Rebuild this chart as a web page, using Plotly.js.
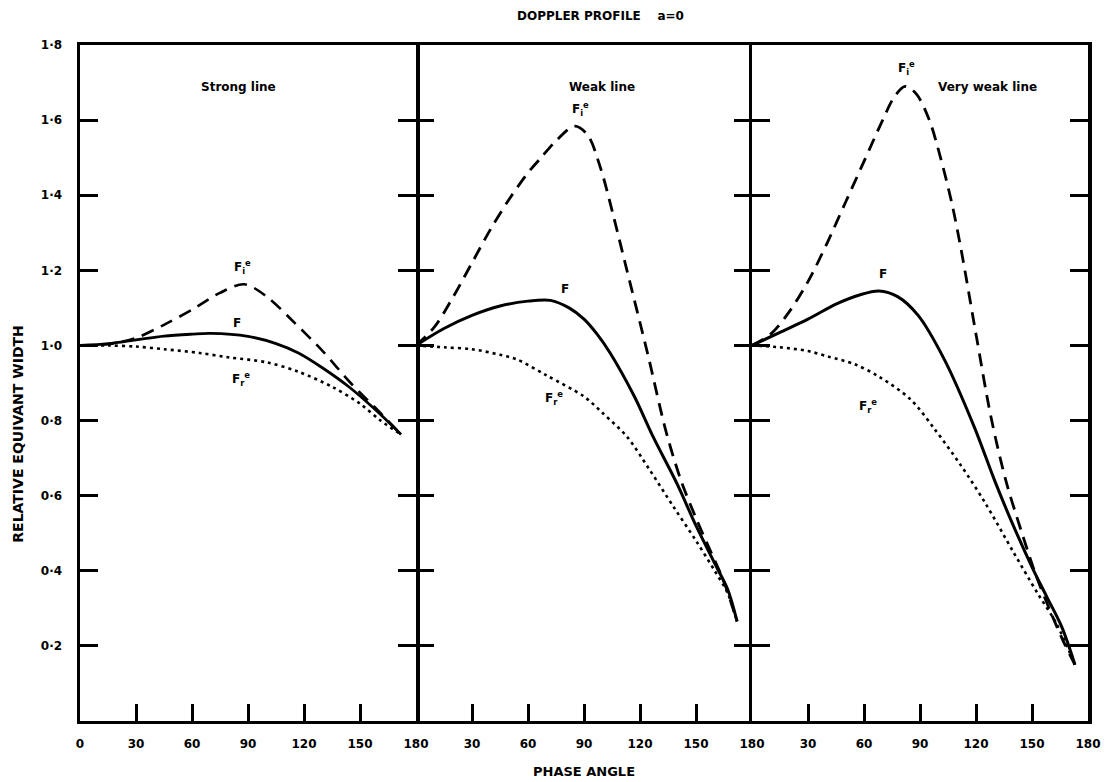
<!DOCTYPE html>
<html><head><meta charset="utf-8">
<script src="https://cdn.plot.ly/plotly-3.0.1.min.js"></script>
<style>html,body{margin:0;padding:0;background:#fff}#c{width:1109px;height:782px}</style>
</head><body><div id="c"></div>
<script>
// Strong line panel
const phaseStrong = [0, 15, 30, 45, 60, 75, 88, 100, 115, 130, 145, 160, 172];
const fiStrong    = [1.00, 1.003, 1.02, 1.055, 1.095, 1.14, 1.163, 1.13, 1.06, 0.985, 0.90, 0.825, 0.763];
const phaseStrongF = [0, 15, 30, 45, 60, 70, 90, 105, 117, 130, 144, 158, 172];
const fStrong      = [1.00, 1.005, 1.015, 1.025, 1.03, 1.032, 1.024, 1.005, 0.98, 0.94, 0.89, 0.83, 0.763];
const phaseStrongR = [0, 15, 30, 45, 64, 80, 100, 117, 135, 150, 161, 172];
const frStrong     = [1.00, 1.0, 0.997, 0.99, 0.98, 0.968, 0.955, 0.93, 0.89, 0.845, 0.80, 0.763];
// Weak line panel
const phaseWeakI = [0, 10, 20, 30, 40, 50, 60, 67, 75, 85, 92, 99, 106, 113, 124, 134, 142, 150, 158, 165, 172];
const fiWeak     = [1.0, 1.05, 1.13, 1.22, 1.31, 1.39, 1.46, 1.50, 1.545, 1.584, 1.56, 1.47, 1.34, 1.20, 0.98, 0.77, 0.64, 0.54, 0.45, 0.37, 0.265];
const phaseWeakF = [0, 15, 30, 45, 60, 72, 82, 90, 97, 104, 117, 127, 140, 150, 160, 167, 172];
const fWeak      = [1.0, 1.045, 1.08, 1.105, 1.118, 1.12, 1.10, 1.07, 1.03, 0.98, 0.864, 0.757, 0.63, 0.52, 0.42, 0.35, 0.265];
const phaseWeakR = [0, 15, 30, 45, 54, 70, 90, 100, 113, 125, 138, 150, 160, 167, 172];
const frWeak     = [1.0, 0.995, 0.99, 0.975, 0.963, 0.92, 0.864, 0.82, 0.757, 0.67, 0.57, 0.48, 0.40, 0.34, 0.265];
// Very weak line panel
const phaseVWeakI = [0, 10, 20, 30, 40, 50, 60, 70, 76, 82, 88, 95, 101, 107, 112, 120, 128, 136, 144, 152, 160, 167, 173];
const fiVWeak     = [1.0, 1.03, 1.09, 1.17, 1.27, 1.38, 1.49, 1.60, 1.66, 1.69, 1.67, 1.60, 1.50, 1.38, 1.256, 1.03, 0.81, 0.64, 0.51, 0.39, 0.29, 0.21, 0.15];
const phaseVWeakF = [0, 15, 30, 45, 58, 68, 78, 89, 103, 119, 130, 140, 150, 158, 166, 173];
const fVWeak      = [1.0, 1.035, 1.07, 1.11, 1.135, 1.145, 1.13, 1.08, 0.963, 0.784, 0.64, 0.52, 0.41, 0.33, 0.25, 0.15];
const phaseVWeakR = [0, 15, 30, 41, 55, 68, 85, 98, 112, 125, 140, 153, 163, 173];
const frVWeak     = [1.0, 0.995, 0.985, 0.97, 0.95, 0.917, 0.856, 0.776, 0.68, 0.58, 0.45, 0.34, 0.26, 0.15];

const yTickVals = [0.2, 0.4, 0.6, 0.8, 1.0, 1.2, 1.4, 1.6, 1.8];
const yTickText = ['0·2', '0·4', '0·6', '0·8', '1·0', '1·2', '1·4', '1·6', '1·8'];
const xTickVals1 = [0, 30, 60, 90, 120, 150, 180];
const xTickVals2 = [30, 60, 90, 120, 150, 180];
const panelTitles = ['Strong line', 'Weak line', 'Very weak line'];
const labelFi = 'F<sub>i</sub><sup>e</sup>';
const labelF = 'F';
const labelFr = 'F<sub>r</sub><sup>e</sup>';

const FONT = 'DejaVu Sans, Liberation Sans, sans-serif';
const dashI = '13px,8px', dashR = '3px,4px';

function tr(x, y, ax, dash, w) {
  return {x: x, y: y, xaxis: 'x' + ax, yaxis: 'y' + ax, type: 'scatter', mode: 'lines',
    line: {color: '#000', width: w, dash: dash, shape: 'spline', smoothing: 0.9}, hoverinfo: 'skip'};
}
const data = [
  tr(phaseStrong, fiStrong, '', dashI, 2.6), tr(phaseStrongF, fStrong, '', 'solid', 2.8), tr(phaseStrongR, frStrong, '', dashR, 2.6),
  tr(phaseWeakI, fiWeak, '2', dashI, 2.8), tr(phaseWeakF, fWeak, '2', 'solid', 3), tr(phaseWeakR, frWeak, '2', dashR, 2.6),
  tr(phaseVWeakI, fiVWeak, '3', dashI, 2.8), tr(phaseVWeakF, fVWeak, '3', 'solid', 3), tr(phaseVWeakR, frVWeak, '3', dashR, 2.6)
];

function xa(dom, vals) {
  return {domain: dom, range: [0, 180], tickvals: vals, ticktext: vals.map(String), ticks: 'inside', ticklen: 17, tickwidth: 3,
    tickcolor: '#000', showline: true, linewidth: 3, linecolor: '#000', mirror: true, showgrid: false, zeroline: false,
    tickfont: {family: FONT, size: 12, color: '#000', weight: 'bold'}, ticklabelstandoff: 10, fixedrange: true};
}
function ya(anchor, show, line) {
  return {anchor: anchor, domain: [0, 1], range: [0, 1.8], tickvals: yTickVals, ticktext: yTickText, ticks: 'inside', ticklen: 18, tickwidth: 3,
    tickcolor: '#000', showline: line, linewidth: 3.5, linecolor: '#000', mirror: 'ticks', showgrid: false, zeroline: false,
    showticklabels: show, tickfont: {family: FONT, size: 12, color: '#000', weight: 'bold'}, ticklabelstandoff: 12, fixedrange: true};
}
const d = 1 / 3;
const ann = [];
function a(text, x, y, xref, yref, extra) {
  ann.push(Object.assign({text: text, x: x, y: y, xref: xref, yref: yref, showarrow: false, xanchor: 'center', yanchor: 'middle',
    font: {family: FONT, size: 12, color: '#000', weight: 'bold'}}, extra || {}));
}
a('DOPPLER PROFILE &nbsp;&nbsp;&nbsp;a=0', 0.516, 1.043, 'paper', 'paper');
a('PHASE ANGLE', 0.5, -0.074, 'paper', 'paper', {font: {family: FONT, size: 13, color: '#000', weight: 'bold'}});
a('RELATIVE EQUIVANT WIDTH', -0.0615, 0.425, 'paper', 'paper', {textangle: -90, font: {family: FONT, size: 14, color: '#000', weight: 'bold'}});
a(panelTitles[0], 85, 1.688, 'x', 'y');
a(panelTitles[1], 99.6, 1.688, 'x2', 'y2');
a(panelTitles[2], 126, 1.688, 'x3', 'y3');
a(labelFi, 87, 1.21, 'x', 'y'); a(labelF, 84, 1.06, 'x', 'y'); a(labelFr, 86, 0.91, 'x', 'y');
a(labelFi, 88, 1.63, 'x2', 'y2'); a(labelF, 80, 1.15, 'x2', 'y2'); a(labelFr, 74, 0.86, 'x2', 'y2');
a(labelFi, 83, 1.74, 'x3', 'y3'); a(labelF, 70, 1.19, 'x3', 'y3'); a(labelFr, 62, 0.84, 'x3', 'y3');

const layout = {
  width: 1109, height: 782, margin: {l: 80, r: 21, t: 45, b: 61}, paper_bgcolor: '#fff', plot_bgcolor: '#fff',
  showlegend: false, font: {family: FONT, color: '#000'},
  xaxis: Object.assign(xa([0, d], xTickVals1), {anchor: 'y'}),
  xaxis2: Object.assign(xa([d, 2 * d], xTickVals2), {anchor: 'y2'}),
  xaxis3: Object.assign(xa([2 * d, 1], xTickVals2), {anchor: 'y3'}),
  yaxis: ya('x', true, true), yaxis2: ya('x2', false, false), yaxis3: ya('x3', false, true),
  annotations: ann
};
Plotly.newPlot('c', data, layout, {displayModeBar: false, staticPlot: true});
</script></body></html>
